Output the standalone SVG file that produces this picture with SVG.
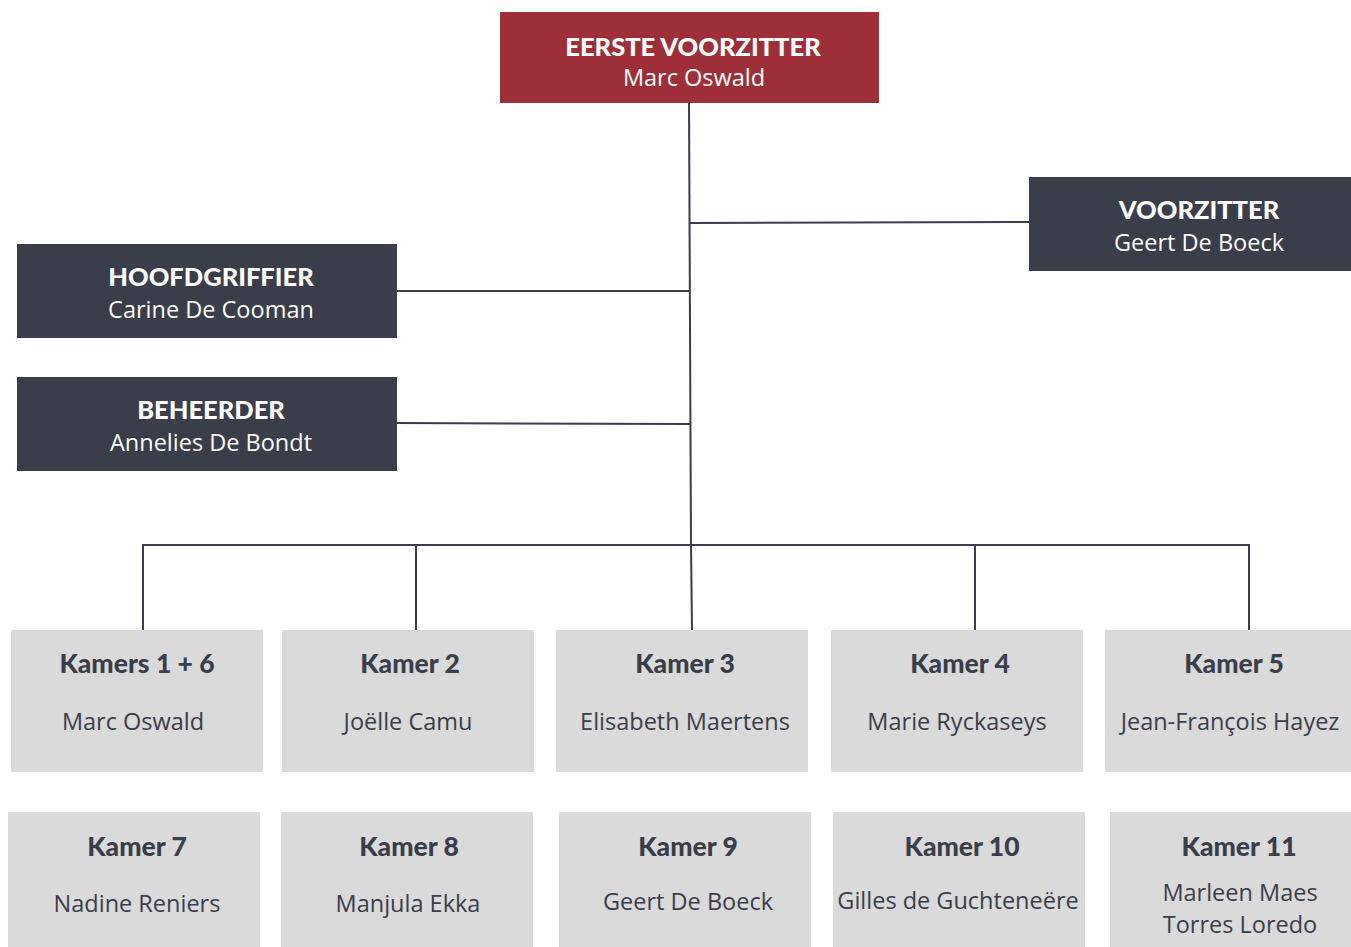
<svg xmlns="http://www.w3.org/2000/svg" width="1351" height="947" viewBox="0 0 1351 947">
<style>
.h{font-family:"Lato","Open Sans",sans-serif;font-weight:900;font-size:25.5px;text-anchor:middle}
.k{font-size:26.5px}
.n{font-family:"Open Sans","Noto Sans",sans-serif;font-size:23.5px;text-anchor:middle}
.w{fill:#ffffff}
.d{fill:#3a3d4a}
.dark{fill:#3a3d4a}
.red{fill:#9e2f39}
.grey{fill:#dadada}
.c{stroke:#3a3d4a;stroke-width:2;fill:none}
</style>
<rect width="1351" height="947" fill="#ffffff"/>
<g id="connectors" class="c">
<path d="M689 103 L691 545"/>
<path d="M690 223 L1029 222"/>
<path d="M397 291 L690 291"/>
<path d="M397 423 L690 424"/>
<path d="M143 630 L143 545 L1249 545 L1249 630"/>
<path d="M416 545 L416 630"/>
<path d="M691 545 L692 630"/>
<path d="M975 545 L975 630"/>
</g>
<g id="eerste-voorzitter"><rect class="red" x="500" y="12" width="379" height="91"/><text class="h w" x="693" y="56">EERSTE VOORZITTER</text><text class="n w" x="694" y="86">Marc Oswald</text></g>
<g id="voorzitter"><rect class="dark" x="1029" y="177" width="322" height="94"/><text class="h w" x="1199" y="219">VOORZITTER</text><text class="n w" x="1199" y="251">Geert De Boeck</text></g>
<g id="hoofdgriffier"><rect class="dark" x="17" y="244" width="380" height="94"/><text class="h w" x="211" y="286">HOOFDGRIFFIER</text><text class="n w" x="211" y="318">Carine De Cooman</text></g>
<g id="beheerder"><rect class="dark" x="17" y="377" width="380" height="94"/><text class="h w" x="211" y="419">BEHEERDER</text><text class="n w" x="211" y="451">Annelies De Bondt</text></g>
<g id="kamer1-6"><rect class="grey" x="11" y="630" width="252" height="142"/><text class="h k d" x="137" y="673">Kamers 1 + 6</text><text class="n d" x="133" y="730">Marc Oswald</text></g>
<g id="kamer2"><rect class="grey" x="282" y="630" width="252" height="142"/><text class="h k d" x="410" y="673">Kamer 2</text><text class="n d" x="408" y="730">Joëlle Camu</text></g>
<g id="kamer3"><rect class="grey" x="556" y="630" width="252" height="142"/><text class="h k d" x="685" y="673">Kamer 3</text><text class="n d" x="685" y="730">Elisabeth Maertens</text></g>
<g id="kamer4"><rect class="grey" x="831" y="630" width="252" height="142"/><text class="h k d" x="960" y="673">Kamer 4</text><text class="n d" x="957" y="730">Marie Ryckaseys</text></g>
<g id="kamer5"><rect class="grey" x="1105" y="630" width="246" height="142"/><text class="h k d" x="1234" y="673">Kamer 5</text><text class="n d" x="1230" y="730">Jean-François Hayez</text></g>
<g id="kamer7"><rect class="grey" x="8" y="812" width="252" height="135"/><text class="h k d" x="137" y="856">Kamer 7</text><text class="n d" x="137" y="912">Nadine Reniers</text></g>
<g id="kamer8"><rect class="grey" x="281" y="812" width="252" height="135"/><text class="h k d" x="409" y="856">Kamer 8</text><text class="n d" x="408" y="912">Manjula Ekka</text></g>
<g id="kamer9"><rect class="grey" x="559" y="812" width="252" height="135"/><text class="h k d" x="688" y="856">Kamer 9</text><text class="n d" x="688" y="910">Geert De Boeck</text></g>
<g id="kamer10"><rect class="grey" x="833" y="812" width="252" height="135"/><text class="h k d" x="962" y="856">Kamer 10</text><text class="n d" x="958" y="909">Gilles de Guchteneëre</text></g>
<g id="kamer11"><rect class="grey" x="1110" y="812" width="241" height="135"/><text class="h k d" x="1239" y="856">Kamer 11</text><text class="n d" x="1240" y="901">Marleen Maes</text><text class="n d" x="1240" y="933">Torres Loredo</text></g>
</svg>
